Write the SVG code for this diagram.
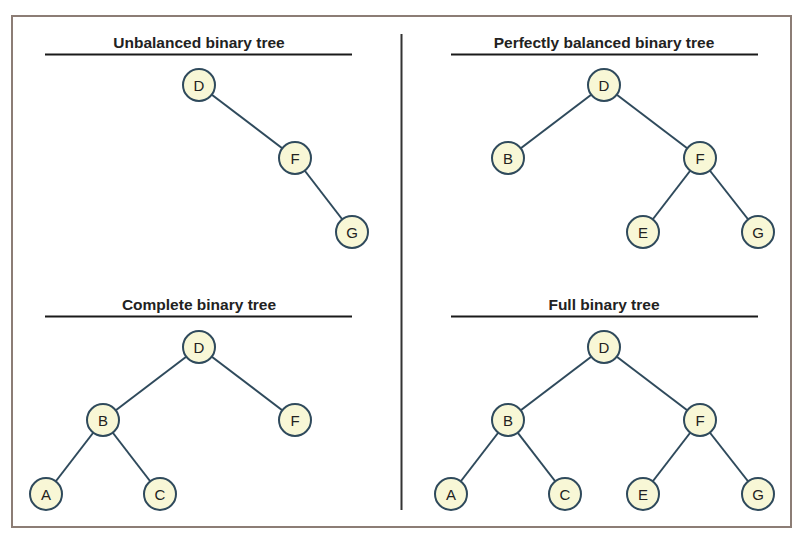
<svg xmlns="http://www.w3.org/2000/svg" width="803" height="543" viewBox="0 0 803 543">
<style>
.frame{fill:#ffffff;stroke:#8c7d75;stroke-width:2}
.divider{stroke:#333333;stroke-width:2}
.rule{stroke:#1a1a1a;stroke-width:2}
.title{font-family:"Liberation Sans",Arial,sans-serif;font-size:15.5px;font-weight:bold;fill:#222222;text-anchor:middle}
.edge{stroke:#2f4a5c;stroke-width:2;fill:none}
.node circle{fill:#f8f7d6;stroke:#2f4a5c;stroke-width:2}
.node text{font-family:"Liberation Sans",Arial,sans-serif;font-size:15px;fill:#222222;text-anchor:middle;dominant-baseline:central}
</style>
<rect width="803" height="543" fill="#ffffff"/>
<rect class="frame" x="12" y="16" width="779" height="511"/>
<line class="divider" x1="401.5" y1="34" x2="401.5" y2="510"/>

<g id="titles">
<text class="title" x="199" y="48">Unbalanced binary tree</text>
<line class="rule" x1="45" y1="54.5" x2="352" y2="54.5"/>
<text class="title" x="604" y="48">Perfectly balanced binary tree</text>
<line class="rule" x1="451" y1="54.5" x2="758" y2="54.5"/>
<text class="title" x="199" y="309.5">Complete binary tree</text>
<line class="rule" x1="45" y1="316.5" x2="352" y2="316.5"/>
<text class="title" x="604" y="309.5">Full binary tree</text>
<line class="rule" x1="451" y1="316.5" x2="758" y2="316.5"/>
</g>

<g id="connectors">
<!-- unbalanced -->
<line class="edge" x1="199" y1="85" x2="295" y2="158"/>
<line class="edge" x1="295" y1="158" x2="352" y2="232"/>
<!-- perfectly balanced -->
<line class="edge" x1="604" y1="85" x2="508" y2="158"/>
<line class="edge" x1="604" y1="85" x2="700" y2="158"/>
<line class="edge" x1="700" y1="158" x2="643" y2="232"/>
<line class="edge" x1="700" y1="158" x2="758" y2="232"/>
<!-- complete -->
<line class="edge" x1="199" y1="347" x2="103" y2="420"/>
<line class="edge" x1="199" y1="347" x2="295" y2="420"/>
<line class="edge" x1="103" y1="420" x2="46" y2="494"/>
<line class="edge" x1="103" y1="420" x2="160" y2="494"/>
<!-- full -->
<line class="edge" x1="604" y1="347" x2="508" y2="420"/>
<line class="edge" x1="604" y1="347" x2="700" y2="420"/>
<line class="edge" x1="508" y1="420" x2="451" y2="494"/>
<line class="edge" x1="508" y1="420" x2="565" y2="494"/>
<line class="edge" x1="700" y1="420" x2="643" y2="494"/>
<line class="edge" x1="700" y1="420" x2="758" y2="494"/>
</g>

<g id="u-D" class="node"><circle cx="199" cy="85" r="16"/><text x="199" y="85">D</text></g>
<g id="u-F" class="node"><circle cx="295" cy="158" r="16"/><text x="295" y="158">F</text></g>
<g id="u-G" class="node"><circle cx="352" cy="232" r="16"/><text x="352" y="232">G</text></g>

<g id="p-D" class="node"><circle cx="604" cy="85" r="16"/><text x="604" y="85">D</text></g>
<g id="p-B" class="node"><circle cx="508" cy="158" r="16"/><text x="508" y="158">B</text></g>
<g id="p-F" class="node"><circle cx="700" cy="158" r="16"/><text x="700" y="158">F</text></g>
<g id="p-E" class="node"><circle cx="643" cy="232" r="16"/><text x="643" y="232">E</text></g>
<g id="p-G" class="node"><circle cx="758" cy="232" r="16"/><text x="758" y="232">G</text></g>

<g id="c-D" class="node"><circle cx="199" cy="347" r="16"/><text x="199" y="347">D</text></g>
<g id="c-B" class="node"><circle cx="103" cy="420" r="16"/><text x="103" y="420">B</text></g>
<g id="c-F" class="node"><circle cx="295" cy="420" r="16"/><text x="295" y="420">F</text></g>
<g id="c-A" class="node"><circle cx="46" cy="494" r="16"/><text x="46" y="494">A</text></g>
<g id="c-C" class="node"><circle cx="160" cy="494" r="16"/><text x="160" y="494">C</text></g>

<g id="f-D" class="node"><circle cx="604" cy="347" r="16"/><text x="604" y="347">D</text></g>
<g id="f-B" class="node"><circle cx="508" cy="420" r="16"/><text x="508" y="420">B</text></g>
<g id="f-F" class="node"><circle cx="700" cy="420" r="16"/><text x="700" y="420">F</text></g>
<g id="f-A" class="node"><circle cx="451" cy="494" r="16"/><text x="451" y="494">A</text></g>
<g id="f-C" class="node"><circle cx="565" cy="494" r="16"/><text x="565" y="494">C</text></g>
<g id="f-E" class="node"><circle cx="643" cy="494" r="16"/><text x="643" y="494">E</text></g>
<g id="f-G" class="node"><circle cx="758" cy="494" r="16"/><text x="758" y="494">G</text></g>
</svg>
